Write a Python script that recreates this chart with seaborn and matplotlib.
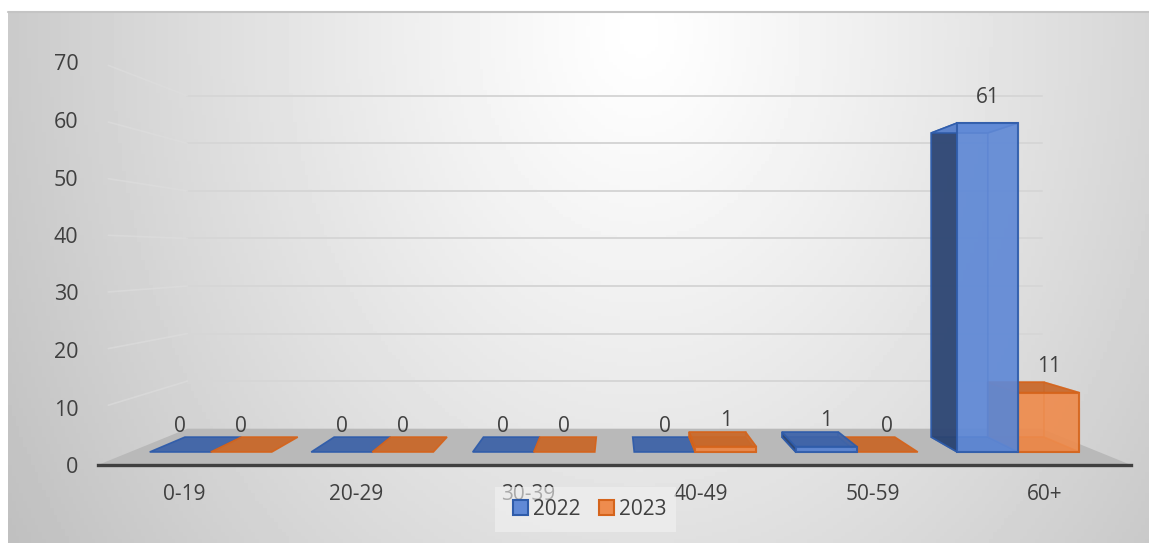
import numpy as np
import pandas as pd
import matplotlib
matplotlib.use("Agg")
import matplotlib.pyplot as plt
import seaborn as sns

# data
ages = ["0-19", "20-29", "30-39", "40-49", "50-59", "60+"]
y2022 = [0, 0, 0, 0, 1, 61]
y2023 = [0, 0, 0, 1, 0, 11]
years = ["2022", "2023"]
yticks = [0, 10, 20, 30, 40, 50, 60, 70]

# fake 3d: vanishing point and depth of the planes (1 = plane of the axis line)
vpx, vpy = 2.5, 36.5
s_front, s_back, s_wall = 0.938, 0.867, 0.827

blue = dict(front="#6089d6", edge="#2f5caa", dark="#2c4470", flat="#3f64a8")
orange = dict(front="#ee8c4e", edge="#d5641c", dark="#b4602a", flat="#c8682a")
txt = "#404040"


def proj(x, y, s):
    return vpx + (x - vpx) * s, vpy + (y - vpy) * s


sns.set_style("white")
plt.rcParams["font.family"] = ["Open Sans", "DejaVu Sans"]
W, H = 1149, 543
fig = plt.figure(figsize=(W / 100, H / 100), dpi=100, facecolor="white")

# background gradient
bg = fig.add_axes([0, 0, 1, 1], zorder=-1)
xx, yy = np.meshgrid(np.linspace(8, W, 300), np.linspace(12, H, 150))
r = np.sqrt(((xx - 640) / 850) ** 2 + ((yy - 30) / 1100) ** 2)
bg.imshow(np.clip(1 - 0.29 * r ** 1.15, 0, 1), extent=(8, W, H, 12), cmap="gray",
          vmin=0, vmax=1, aspect="auto")
bg.plot([8, W], [12, 12], color="#c4c4c4", lw=1.5)
bg.set_xlim(0, W)
bg.set_ylim(H, 0)
bg.axis("off")

ax = fig.add_axes([98 / W, (H - 465) / H, 1033 / W, 402.5 / H])
ax.patch.set_alpha(0)

df = pd.DataFrame({"age": ages * 2, "n": y2022 + y2023,
                   "year": [years[0]] * 6 + [years[1]] * 6})
sns.barplot(data=df, x="age", y="n", hue="year", order=ages, hue_order=years,
            palette=[blue["front"], orange["front"]], width=0.756, saturation=1, ax=ax)
ax.set_xlim(-0.5, 5.5)
ax.set_ylim(0, 70)

# floor
fx = [proj(-0.5, 0, 1)[0], proj(5.5, 0, 1)[0], proj(5.5, 0, s_wall)[0], proj(-0.5, 0, s_wall)[0]]
fy = [0, 0, proj(0, 0, s_wall)[1], proj(0, 0, s_wall)[1]]
ax.fill(fx, fy, color="#b9b9b9", lw=0, zorder=1.2)

# walls
for v in yticks[1:]:
    x0, y0 = proj(-0.5, v, s_wall)
    x1, _ = proj(5.5, v, s_wall)
    ax.plot([x0, x1], [y0, y0], color="#d6d6d6", lw=1.4, zorder=1)
    ax.plot([-0.44, x0], [proj(-0.44, v, 0.985)[1], y0], color="#dedede", lw=1.2, alpha=0.6, zorder=1)


def face(pts, color, alpha, edge, z):
    ax.fill(*zip(*pts), facecolor=color, alpha=alpha, edgecolor=edge, lw=1.2, zorder=z)


for cont, vals, c, k in zip(ax.containers, [y2022, y2023], [blue, orange], [0, 1]):
    for i, (p, v) in enumerate(zip(cont, vals)):
        a, b = p.get_x(), p.get_x() + p.get_width()
        # shorter bar of a group goes first
        other = (y2022, y2023)[1 - k][i]
        z = 3 + i * 0.1 + (0.05 if (v, k) > (other, 1 - k) else 0)

        fl, fb = proj(a, 0, s_front)
        fr, ft = proj(b, v, s_front)
        bl, bb = proj(a, 0, s_back)
        br, bt = proj(b, v, s_back)

        if v == 0:
            face([(fl, fb), (fr, fb), (br, bb), (bl, bb)], c["flat"], 0.95, c["edge"], z)
            p.set_visible(False)
        else:
            face([(bl, bb), (br, bb), (br, bt), (bl, bt)], c["front"], 0.45, c["edge"], z)
            face([(fl, fb), (fr, fb), (br, bb), (bl, bb)], c["flat"], 0.8, c["edge"], z)
            face([(fr, fb), (br, bb), (br, bt), (fr, ft)], c["front"], 0.35, c["edge"], z)
            face([(fl, fb), (bl, bb), (bl, bt), (fl, ft)], c["dark"], 0.92, c["edge"], z)
            top = c["front"] if v > vpy else c["flat"]
            face([(fl, ft), (fr, ft), (br, bt), (bl, bt)], top, 0.9, c["edge"], z)

            p.set_x(fl)
            p.set_y(fb)
            p.set_width(fr - fl)
            p.set_height(ft - fb)
            p.set_alpha(0.88)
            p.set_edgecolor(c["edge"])
            p.set_linewidth(1.5)
            p.set_zorder(z + 0.01)

        ax.annotate(str(v), ((fl + fr) / 2, ft), xytext=(0, 18.7), textcoords="offset points",
                    ha="center", va="center", fontsize=15, color=txt, zorder=6)

for name in ["left", "top", "right"]:
    ax.spines[name].set_visible(False)
ax.spines["bottom"].set_color("#404040")
ax.spines["bottom"].set_linewidth(2.4)
ax.spines["bottom"].set_zorder(2)

ax.set_yticks(yticks)
ax.set_xlabel("")
ax.set_ylabel("")
ax.tick_params(axis="y", length=0, pad=14, labelsize=15.5, labelcolor=txt)
ax.tick_params(axis="x", length=0, pad=14, labelsize=15, labelcolor=txt)

# legend box is wider than its entries in the original
bg_box = plt.Rectangle((495 / W, (H - 532) / H), 181 / W, 45 / H, transform=fig.transFigure,
                       facecolor="#f2f2f2", alpha=0.6, lw=0, zorder=6.9, clip_on=False)
ax.add_patch(bg_box)
sns.move_legend(ax, "center", bbox_to_anchor=(0.476, -0.1106), ncol=2, title=None,
                frameon=False, fontsize=15, handlelength=0.72, handleheight=0.72,
                handletextpad=0.25, columnspacing=0.9, labelcolor=txt, borderaxespad=0)
leg = ax.get_legend()
leg.set_zorder(7)
for h, c in zip(leg.legend_handles, [blue, orange]):
    h.set_edgecolor(c["edge"])
    h.set_linewidth(1.5)

fig.savefig("out.png", dpi=100)
